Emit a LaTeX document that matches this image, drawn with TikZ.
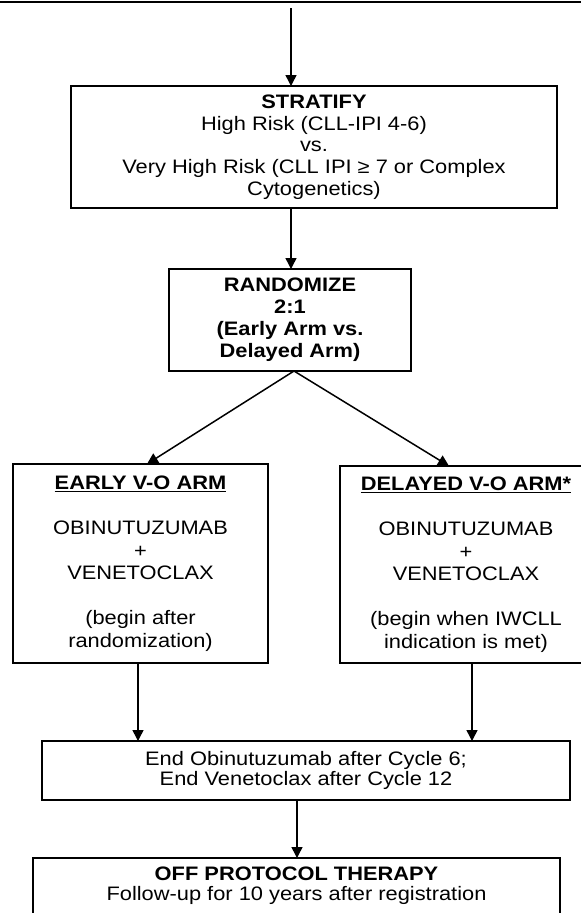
\documentclass[tikz,border=0pt]{standalone}
\usepackage{fontspec}
\setmainfont{Liberation Sans}[FakeStretch=1.12]
\usetikzlibrary{arrows.meta}
\newcommand\myul[1]{{\setbox0\hbox{#1}\rlap{\rule[-2.6pt]{\wd0}{1.3pt}}\box0}}
\begin{document}
\begin{tikzpicture}[x=1pt,y=-1pt,
  box/.style={draw, line width=1.6pt, inner sep=0pt, outer sep=0pt, align=center, text=black},
  arr/.style={line width=1.5pt, -{Triangle[length=11pt,width=11pt]}},
  fa/.style={font=\fontsize{19.5}{21.7}\selectfont},
  fb/.style={font=\fontsize{19.5}{22.5}\selectfont},
  fc/.style={font=\fontsize{19.5}{20}\selectfont}]
\useasboundingbox (0,0) rectangle (581,913);
\clip (0,0) rectangle (581,913);
\draw[line width=1.6pt] (0,1.7) -- (581,1.7);

\node[box, fa, minimum width=486pt, minimum height=122pt] (strat) at (314,147)
  {\textbf{STRATIFY}\\High Risk (CLL-IPI 4-6)\\vs.\\Very High Risk (CLL IPI ≥ 7 or Complex\\Cytogenetics)};
\node[box, font=\fontsize{19.5}{22}\selectfont\bfseries, minimum width=242pt, minimum height=102pt] (rand) at (290,320)
  {RANDOMIZE\\2:1\\(Early Arm vs.\\Delayed Arm)};
\node[box, fb, minimum width=255pt, minimum height=199pt] (early) at (140.5,563.5)
  {\myul{\textbf{EARLY V-O ARM}}\\[22.5pt]OBINUTUZUMAB\\+\\VENETOCLAX\\[22.5pt](begin after\\randomization)};
\node[box, fb, minimum width=252pt, minimum height=197pt] (delayed) at (466,564.5)
  {\myul{\textbf{DELAYED V-O ARM*}}\\[22.5pt]OBINUTUZUMAB\\+\\VENETOCLAX\\[22.5pt](begin when IWCLL\\indication is met)};
\node[box, fc, minimum width=528pt, minimum height=59pt] (end) at (306,770.5)
  {End Obinutuzumab after Cycle 6;\\End Venetoclax after Cycle 12};
\node[box, fc, minimum width=527pt, minimum height=56pt] (off) at (296.5,886)
  {\textbf{OFF PROTOCOL THERAPY}\\Follow-up for 10 years after registration};

\coordinate (s) at (291,8);
\coordinate (xa) at (291,0);
\draw[arr] (s) -- (s |- strat.north);
\draw[arr] (strat.south -| xa) -- (rand.north -| xa);
\draw[arr] ([xshift=4pt]rand.south) -- ([xshift=6.5pt]early.north);
\draw[arr] ([xshift=4pt]rand.south) -- ([xshift=-17pt]delayed.north);
\coordinate (ea) at ([xshift=-2.5pt]early.south);
\coordinate (da) at ([xshift=6pt]delayed.south);
\coordinate (eo) at ([xshift=-9pt]end.south);
\draw[arr] (ea) -- (ea |- end.north);
\draw[arr] (da) -- (da |- end.north);
\draw[arr] (eo) -- (eo |- off.north);
\end{tikzpicture}
\end{document}
